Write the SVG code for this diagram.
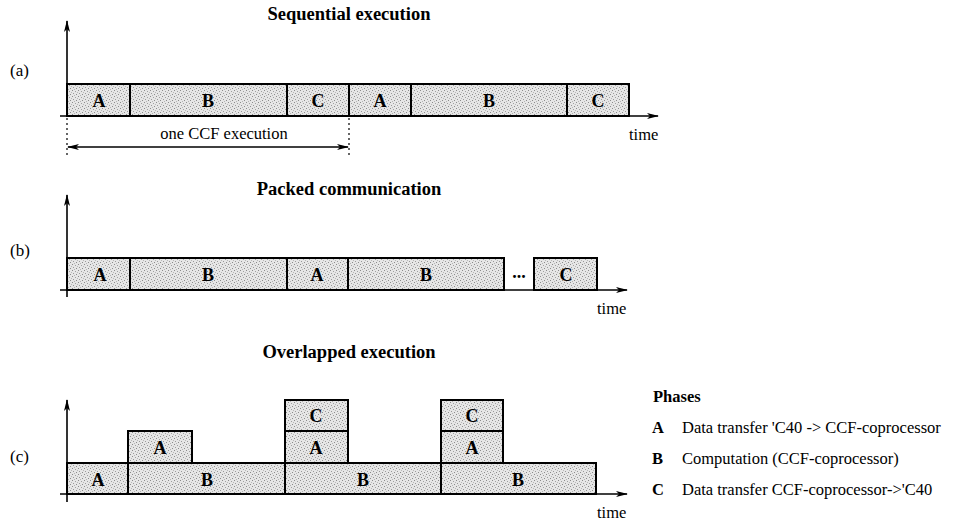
<svg xmlns="http://www.w3.org/2000/svg" width="955" height="522" viewBox="0 0 955 522">
  <defs>
    <pattern id="stipple" width="6" height="6" patternUnits="userSpaceOnUse">
      <rect width="6" height="6" fill="#e6e6e6"/>
      <rect x="0" y="0" width="1" height="1" fill="#8c8c8c"/>
      <rect x="3" y="1" width="1" height="1" fill="#a0a0a0"/>
      <rect x="1" y="3" width="1" height="1" fill="#9a9a9a"/>
      <rect x="4" y="4" width="1" height="1" fill="#8c8c8c"/>
      <rect x="5" y="2" width="1" height="1" fill="#b8b8b8"/>
      <rect x="2" y="5" width="1" height="1" fill="#b4b4b4"/>
    </pattern>
    <marker id="head" markerWidth="12" markerHeight="8" refX="11" refY="4" orient="auto-start-reverse" markerUnits="userSpaceOnUse">
      <path d="M0,1 L12,4 L0,7 L3,4 Z" fill="#000"/>
    </marker>
  </defs>
  <style>
    text { font-family: "Liberation Serif", "DejaVu Serif", "Times New Roman", serif; fill: #000; }
    .title { font-size: 18.5px; font-weight: bold; text-anchor: middle; }
    .lbl { font-size: 18px; font-weight: bold; text-anchor: middle; }
    .tag { font-size: 17px; }
    .plain { font-size: 16.5px; }
    .bold { font-weight: bold; }
    .box { fill: url(#stipple); stroke: #000; stroke-width: 2; }
    .axis { stroke: #000; stroke-width: 1.6; fill: none; }
    .dot { stroke: #000; stroke-width: 1.2; stroke-dasharray: 2 3; fill: none; }
  </style>

  <!-- (a) sequential execution -->
  <text class="title" x="349" y="20">Sequential execution</text>
  <text class="tag" x="10" y="76">(a)</text>
  <g id="seq-a1"><rect class="box" x="67" y="84" width="63" height="32"/><text class="lbl" x="99" y="107">A</text></g>
  <g id="seq-b1"><rect class="box" x="130" y="84" width="157" height="32"/><text class="lbl" x="208" y="107">B</text></g>
  <g id="seq-c1"><rect class="box" x="287" y="84" width="62" height="32"/><text class="lbl" x="318" y="107">C</text></g>
  <g id="seq-a2"><rect class="box" x="349" y="84" width="62" height="32"/><text class="lbl" x="380" y="107">A</text></g>
  <g id="seq-b2"><rect class="box" x="411" y="84" width="156" height="32"/><text class="lbl" x="489" y="107">B</text></g>
  <g id="seq-c2"><rect class="box" x="567" y="84" width="62" height="32"/><text class="lbl" x="598" y="107">C</text></g>
  <text class="plain" x="629" y="140">time</text>
  <text class="plain" x="224" y="139" text-anchor="middle">one CCF execution</text>

  <!-- (b) packed communication -->
  <text class="title" x="349" y="195">Packed communication</text>
  <text class="tag" x="10" y="256">(b)</text>
  <g id="pk-a1"><rect class="box" x="67" y="258" width="63" height="32"/><text class="lbl" x="100" y="281">A</text></g>
  <g id="pk-b1"><rect class="box" x="130" y="258" width="157" height="32"/><text class="lbl" x="208" y="281">B</text></g>
  <g id="pk-a2"><rect class="box" x="287" y="258" width="61" height="32"/><text class="lbl" x="317" y="281">A</text></g>
  <g id="pk-b2"><rect class="box" x="348" y="258" width="156" height="32"/><text class="lbl" x="426" y="281">B</text></g>
  <text class="lbl" x="519" y="278">...</text>
  <g id="pk-c"><rect class="box" x="534" y="258" width="63" height="32"/><text class="lbl" x="566" y="281">C</text></g>
  <text class="plain" x="597" y="314">time</text>

  <!-- (c) overlapped execution -->
  <text class="title" x="349" y="358">Overlapped execution</text>
  <text class="tag" x="10" y="462">(c)</text>
  <g id="ov-a0"><rect class="box" x="67" y="463" width="61" height="31"/><text class="lbl" x="98" y="486">A</text></g>
  <g id="ov-b1"><rect class="box" x="128" y="463" width="157" height="31"/><text class="lbl" x="207" y="486">B</text></g>
  <g id="ov-a1"><rect class="box" x="128" y="431" width="64" height="32"/><text class="lbl" x="160" y="454">A</text></g>
  <g id="ov-b2"><rect class="box" x="285" y="463" width="156" height="31"/><text class="lbl" x="363" y="486">B</text></g>
  <g id="ov-a2"><rect class="box" x="285" y="431" width="63" height="32"/><text class="lbl" x="316" y="454">A</text></g>
  <g id="ov-c2"><rect class="box" x="285" y="400" width="63" height="31"/><text class="lbl" x="316" y="422">C</text></g>
  <g id="ov-b3"><rect class="box" x="441" y="463" width="155" height="31"/><text class="lbl" x="518" y="486">B</text></g>
  <g id="ov-a3"><rect class="box" x="441" y="431" width="62" height="32"/><text class="lbl" x="472" y="454">A</text></g>
  <g id="ov-c3"><rect class="box" x="441" y="400" width="62" height="31"/><text class="lbl" x="472" y="422">C</text></g>
  <text class="plain" x="597" y="518">time</text>

  <!-- axes and spans -->
  <g id="connectors">
    <line class="axis" x1="67" y1="116" x2="67" y2="21" marker-end="url(#head)"/>
    <line class="axis" x1="60" y1="116" x2="658" y2="116" marker-end="url(#head)"/>
    <line class="dot" x1="67" y1="118" x2="67" y2="156"/>
    <line class="dot" x1="349" y1="118" x2="349" y2="156"/>
    <line class="axis" x1="68" y1="147" x2="348" y2="147" marker-start="url(#head)" marker-end="url(#head)"/>

    <line class="axis" x1="67" y1="297" x2="67" y2="195" marker-end="url(#head)"/>
    <line class="axis" x1="60" y1="290" x2="627" y2="290" marker-end="url(#head)"/>

    <line class="axis" x1="67" y1="502" x2="67" y2="400" marker-end="url(#head)"/>
    <line class="axis" x1="60" y1="494" x2="627" y2="494" marker-end="url(#head)"/>
  </g>

  <!-- legend -->
  <g id="legend">
    <text class="plain bold" x="653" y="402">Phases</text>
    <text class="plain bold" x="652" y="433">A</text>
    <text class="plain" x="682" y="433">Data transfer 'C40 -&gt; CCF-coprocessor</text>
    <text class="plain bold" x="652" y="464">B</text>
    <text class="plain" x="682" y="464">Computation (CCF-coprocessor)</text>
    <text class="plain bold" x="652" y="495">C</text>
    <text class="plain" x="682" y="495">Data transfer CCF-coprocessor-&gt;'C40</text>
  </g>
</svg>
